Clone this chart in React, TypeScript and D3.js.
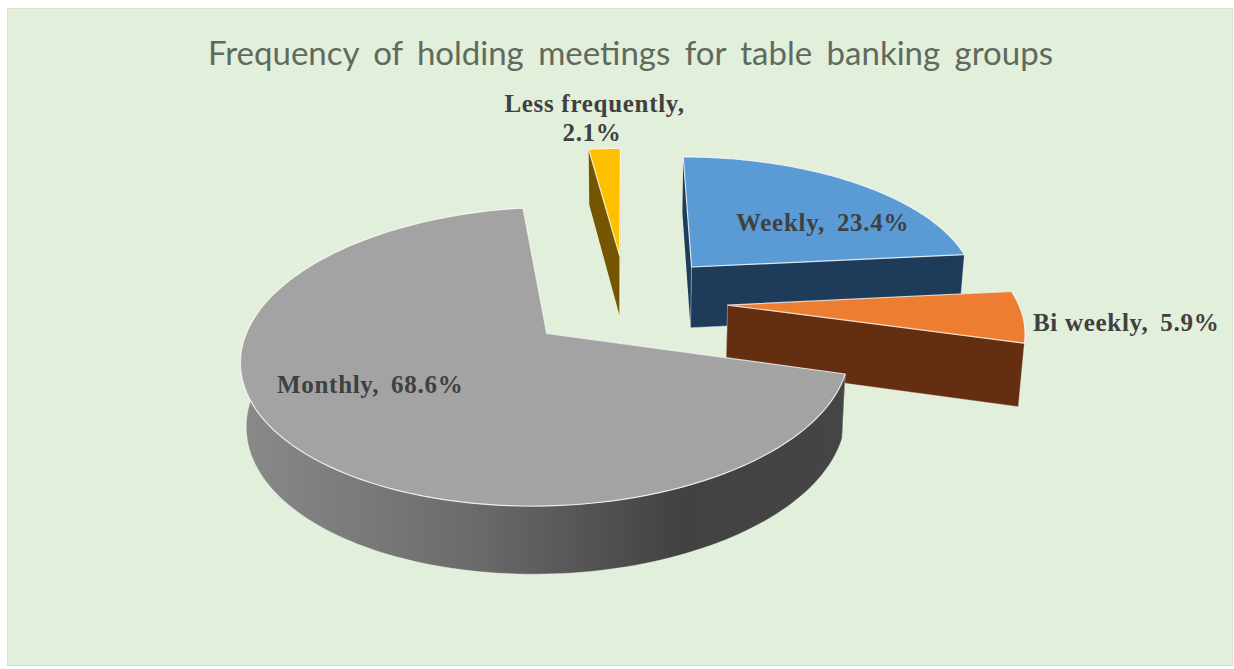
import React from "react";
import * as d3 from "d3";

// Meeting-frequency shares, in percent, clockwise from the top of the pie.
const categories = ["Weekly", "Bi weekly", "Monthly", "Less frequently"];
const shares = [23.4, 5.9, 68.6, 2.1];

const topColors = ["#5b9bd5", "#ed7d31", "#a3a3a3", "#ffc000"];
const wallColors = ["#1f3b5a", "#632f10", "url(#monthlyWall)", "#745600"];
const paintOrder = [3, 0, 1, 2];

const chartTitle = "Frequency of holding meetings for table banking groups";

const W = 1234;
const H = 669;

// Pie geometry: a tilted disc of unit radius seen in perspective.
const cx = 626;
const cy = 301;
const radiusX = 290;
const radiusY = 136;
const perspective = 0.15;
const explode = 0.35;
const thickness = 62;
const thicknessFalloff = 0.08;
const depthShrink = 0.015;
const rotation = 0;

type Pt = [number, number];

// Maps a point of the disc (u to the right, v toward the viewer) to the screen.
// `low` selects the underside of the pie.
function project(u: number, v: number, low: boolean): Pt {
  const s = 1 / (1 - perspective * v);
  const x = radiusX * u * s;
  const y = radiusY * v * s;
  return low
    ? [cx + x * (1 - depthShrink), cy + y + thickness * (1 + thicknessFalloff * v)]
    : [cx + x, cy + y];
}

const pieLayout = d3
  .pie<number>()
  .sort(null)
  .startAngle(rotation)
  .endAngle(rotation + 2 * Math.PI);

const arcs = pieLayout(shares);
const toPath = d3.line<Pt>();

function sliceGeometry(index: number) {
  const { startAngle: a0, endAngle: a1 } = arcs[index];
  const mid = (a0 + a1) / 2;
  const u0 = explode * Math.sin(mid);
  const v0 = -explode * Math.cos(mid);
  const rim = (a: number, low: boolean) =>
    project(u0 + Math.sin(a), v0 - Math.cos(a), low);
  const sweep = (from: number, to: number) =>
    d3.range(0, 121).map((i) => from + ((to - from) * i) / 120);
  const apex = (low: boolean) => project(u0, v0, low);

  const top = toPath([apex(false), ...sweep(a0, a1).map((a) => rim(a, false))])! + "Z";
  const startWall =
    toPath([apex(false), rim(a0, false), rim(a0, true), apex(true)])! + "Z";
  const endWall =
    toPath([apex(false), rim(a1, false), rim(a1, true), apex(true)])! + "Z";

  // Only a wide slice shows its rim; narrow ones are seen through their flat walls.
  const f0 = Math.max(a0, Math.PI / 2);
  const f1 = Math.min(a1, (Math.PI * 3) / 2 + 0.3);
  let rimWall = "";
  if (f1 > f0 && a1 - a0 > Math.PI / 2) {
    const upper = sweep(f0, f1).map((a) => rim(a, false));
    const lower = sweep(f0, f1).map((a) => rim(a, true)).reverse();
    rimWall = toPath([...upper, ...lower])! + "Z";
  }
  return { top, startWall, endWall, rimWall };
}

// Screen anchors of the data labels; the last slice breaks its label over two lines.
const labelLayout: { x: number; y: number; anchor: string }[][] = [
  [{ x: 736, y: 231, anchor: "start" }],
  [{ x: 1033, y: 331, anchor: "start" }],
  [{ x: 277, y: 393, anchor: "start" }],
  [
    { x: 594.5, y: 112, anchor: "middle" },
    { x: 592, y: 141, anchor: "middle" },
  ],
];

const labelStyle = {
  fontFamily: "'Liberation Serif', serif",
  fontWeight: "bold",
  fontSize: 25,
  letterSpacing: 0.7,
  fill: "#404040",
} as const;

function SliceLabel({ i }: { i: number }) {
  const pct = `${shares[i].toFixed(1)}%`;
  const spots = labelLayout[i];
  if (spots.length > 1) {
    return (
      <g>
        <text x={spots[0].x} y={spots[0].y} textAnchor={spots[0].anchor} {...labelStyle}>
          {`${categories[i]},`}
        </text>
        <text x={spots[1].x} y={spots[1].y} textAnchor={spots[1].anchor} {...labelStyle}>
          {pct}
        </text>
      </g>
    );
  }
  return (
    <text x={spots[0].x} y={spots[0].y} textAnchor={spots[0].anchor} {...labelStyle}>
      {`${categories[i]}, `}
      <tspan dx={5}>{pct}</tspan>
    </text>
  );
}

export default function App() {
  return (
    <svg
      width={W}
      height={H}
      viewBox={`0 0 ${W} ${H}`}
      style={{ position: "fixed", left: 0, top: 0, display: "block", background: "#ffffff" }}
    >
      <defs>
        <linearGradient id="monthlyWall" gradientUnits="userSpaceOnUse" x1={240} x2={850} y1={0} y2={0}>
          <stop offset="0" stopColor="#8a8a8a" />
          <stop offset="0.38" stopColor="#6b6b6b" />
          <stop offset="0.72" stopColor="#424242" />
          <stop offset="1" stopColor="#454545" />
        </linearGradient>
      </defs>

      <rect x={7.5} y={8.5} width={1225} height={657} fill="#e2efda" stroke="#d6dfd2" strokeWidth={1} />

      <text
        x={630.5}
        y={65}
        textAnchor="middle"
        fontFamily="Lato, sans-serif"
        fontSize={33}
        wordSpacing={6}
        fill="#5f6a5e"
      >
        {chartTitle}
      </text>

      {paintOrder.map((i) => {
        const g = sliceGeometry(i);
        return (
          <g key={categories[i]}>
            <path d={g.startWall} fill={wallColors[i]} />
            <path d={g.endWall} fill={wallColors[i]} stroke="#ffffff" strokeOpacity={0.45} strokeWidth={0.8} />
            {g.rimWall && <path d={g.rimWall} fill={wallColors[i]} stroke="#ffffff" strokeOpacity={0.45} strokeWidth={0.8} />}
            <path d={g.top} fill={topColors[i]} stroke="#ffffff" strokeOpacity={0.75} strokeWidth={1.2} strokeLinejoin="round" />
          </g>
        );
      })}

      {categories.map((c, i) => (
        <SliceLabel key={c} i={i} />
      ))}
    </svg>
  );
}
